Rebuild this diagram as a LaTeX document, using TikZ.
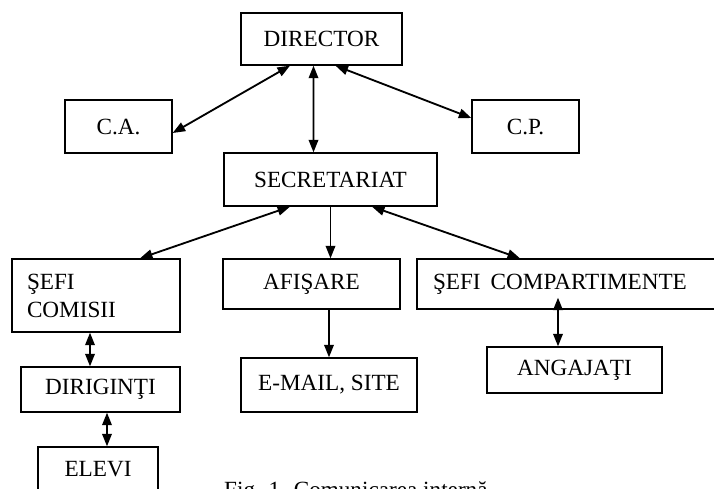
\documentclass[tikz,border=0pt]{standalone}
\usepackage{fontspec}
\setmainfont{Liberation Serif}
\usetikzlibrary{arrows.meta, positioning, calc}

\begin{document}
\begin{tikzpicture}[x=0.02cm, y=-0.02cm,
    box/.style={draw, line width=0.75pt, inner sep=0pt, align=center,
                font=\fontsize{13.2}{16}\selectfont},
    arr/.style={{Triangle[length=0.25cm, width=0.19cm]}-{Triangle[length=0.25cm, width=0.19cm]},
                line width=1.05pt},
    oneway/.style={-{Triangle[length=0.25cm, width=0.19cm]}, line width=1.05pt}
  ]
  \useasboundingbox (0,0) rectangle (714,488);

  % Conducere
  \node[box, minimum width=3.22cm, minimum height=1.04cm] (dir) at (321.5,39) {DIRECTOR};
  \node[box, minimum width=2.14cm, minimum height=1.06cm] (ca) at (118.5,126.5) {C.A.};
  \node[box, minimum width=2.14cm, minimum height=1.06cm] (cp) at (525.5,126.5) {C.P.};
  \node[box, minimum width=4.26cm, minimum height=1.06cm] (sec) at (330.5,179.5) {SECRETARIAT};
  \draw[arr] ([xshift=-0.63cm]dir.south) -- ([yshift=-0.13cm]ca.east);
  \draw[arr] ([xshift=-0.16cm]dir.south) -- ([xshift=-0.34cm]sec.north);
  \draw[arr] ([xshift=0.28cm]dir.south) -- ([yshift=0.17cm]cp.west);

  % Nivel 2
  \node[box, minimum height=1.46cm, text width=2.76cm, inner xsep=0.3cm, align=left]
    (sc) at (96,295.5) {ŞEFI\\COMISII};
  \node[box, minimum width=3.54cm, minimum height=1.0cm] (afis) at (311.5,284) {AFIŞARE};
  \node[box, minimum height=1.0cm, text width=5.62cm, inner xsep=0.32cm, align=left]
    (scomp) at (573.5,284) {ŞEFI\hspace{0.2cm}COMPARTIMENTE};
  \draw[arr] ([xshift=-0.81cm]sec.south) -- ([xshift=0.88cm]sc.north);
  \draw[oneway] (sec.south) -- (sec.south |- afis.north);
  \draw[arr] ([xshift=0.83cm]sec.south) -- ([xshift=-1.07cm]scomp.north);

  % Nivel 3
  \node[box, minimum width=3.18cm, minimum height=0.9cm] (dirig) at (100.5,389.5) {DIRIGINŢI};
  \node[box, minimum width=2.4cm, minimum height=0.9cm] (elevi) at (98,469.5) {ELEVI};
  \node[box, minimum width=3.52cm, minimum height=1.08cm] (mail) at (329,385) {E-MAIL, SITE};
  \node[box, minimum width=3.5cm, minimum height=0.92cm] (ang) at (574.5,370) {ANGAJAŢI};
  \draw[arr] ([xshift=-0.12cm]sc.south) -- ([xshift=-0.12cm]sc.south |- dirig.north);
  \draw[arr] ([xshift=0.13cm]dirig.south) -- ([xshift=0.13cm]dirig.south |- elevi.north);
  \draw[oneway] ([xshift=0.35cm]afis.south) -- ([xshift=0.35cm]afis.south |- mail.north);
  \draw[arr, shorten <=-0.24cm] ([xshift=-0.33cm]ang.north |- scomp.south) -- ([xshift=-0.33cm]ang.north);

  \node[font=\fontsize{13.2}{16}\selectfont, anchor=base west] (cap) at (218,497)
    {Fig. 1. Comunicarea internă};
\end{tikzpicture}
\end{document}
